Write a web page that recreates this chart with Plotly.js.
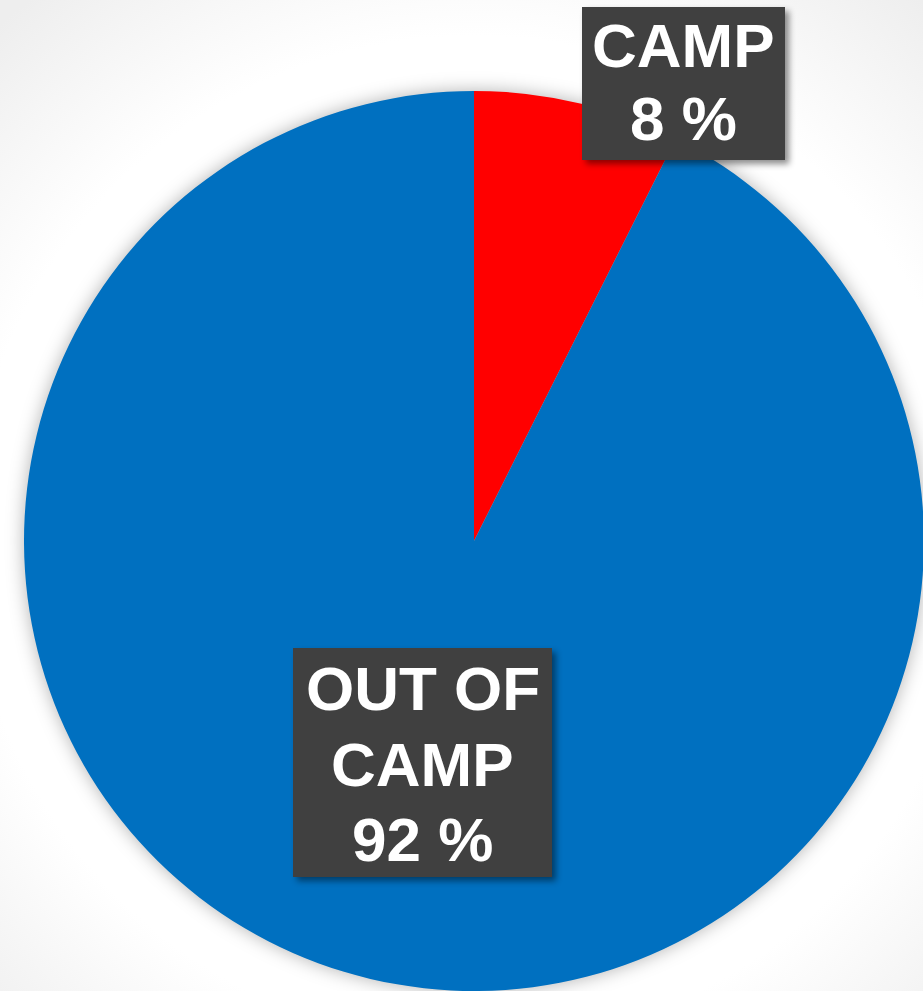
<!DOCTYPE html>
<html><head><meta charset="utf-8">
<script src="https://cdn.plot.ly/plotly-3.0.1.min.js"></script>
<style>
html,body{margin:0;padding:0;width:923px;height:991px;overflow:hidden;}
body{background:radial-gradient(ellipse 700px 700px at 474px 540px,#ffffff 0%,#ffffff 72%,#eeeeee 100%);}
#chart{width:925px;height:991px;}
#chart .pielayer{filter:drop-shadow(0 0 9px rgba(0,0,0,0.3));}
#chart .shapelayer path{filter:drop-shadow(4px 4px 3px rgba(0,0,0,0.45));}
</style></head>
<body>
<div id="chart"></div>
<script>
const labels = ["CAMP", "OUT OF CAMP"];
const values = [7.4, 92.6];
const labelLines = [["CAMP", "8 %"], ["OUT OF", "CAMP", "92 %"]];
const colors = ["#FF0000", "#0070C0"];

const W = 925, H = 991;
const data = [{
  type: "pie",
  labels: labels,
  values: values,
  sort: false,
  direction: "clockwise",
  rotation: 0,
  marker: {colors: colors, line: {width: 0}},
  textinfo: "none",
  hoverinfo: "none",
  showlegend: false,
  domain: {x: [24/W, 924/W], y: [1 - 991/H, 1 - 91/H]}
}];

// label boxes (pixels): [left, top, right, bottom], line centres
const boxes = [
  {x0: 582, y0: 7, x1: 785, y1: 160, cx: 683.5, lines: [47, 121]},
  {x0: 293, y0: 648, x1: 552, y1: 877, cx: 422.5, lines: [690, 766, 841]}
];
const annFont = {family: "Liberation Sans, Arial, sans-serif", size: 62, color: "#ffffff"};
const shapes = [], annotations = [];
boxes.forEach((b, i) => {
  shapes.push({type:"rect", xref:"paper", yref:"paper", x0:b.x0/W, x1:b.x1/W, y0:1-b.y1/H, y1:1-b.y0/H,
    fillcolor:"#404040", line:{width:0}, layer:"above"});
  labelLines[i].forEach((t, j) => {
    annotations.push({text: "<b>" + t + "</b>", xref:"paper", yref:"paper", x:b.cx/W, y:1-(b.lines[j]-2)/H,
      xanchor:"center", yanchor:"middle", showarrow:false, font: annFont});
  });
});

const layout = {
  width: W, height: H,
  margin: {l:0, r:0, t:0, b:0},
  paper_bgcolor: "rgba(0,0,0,0)",
  plot_bgcolor: "rgba(0,0,0,0)",
  shapes: shapes,
  annotations: annotations
};
Plotly.newPlot("chart", data, layout, {displayModeBar:false, staticPlot:true});
</script>
</body></html>
